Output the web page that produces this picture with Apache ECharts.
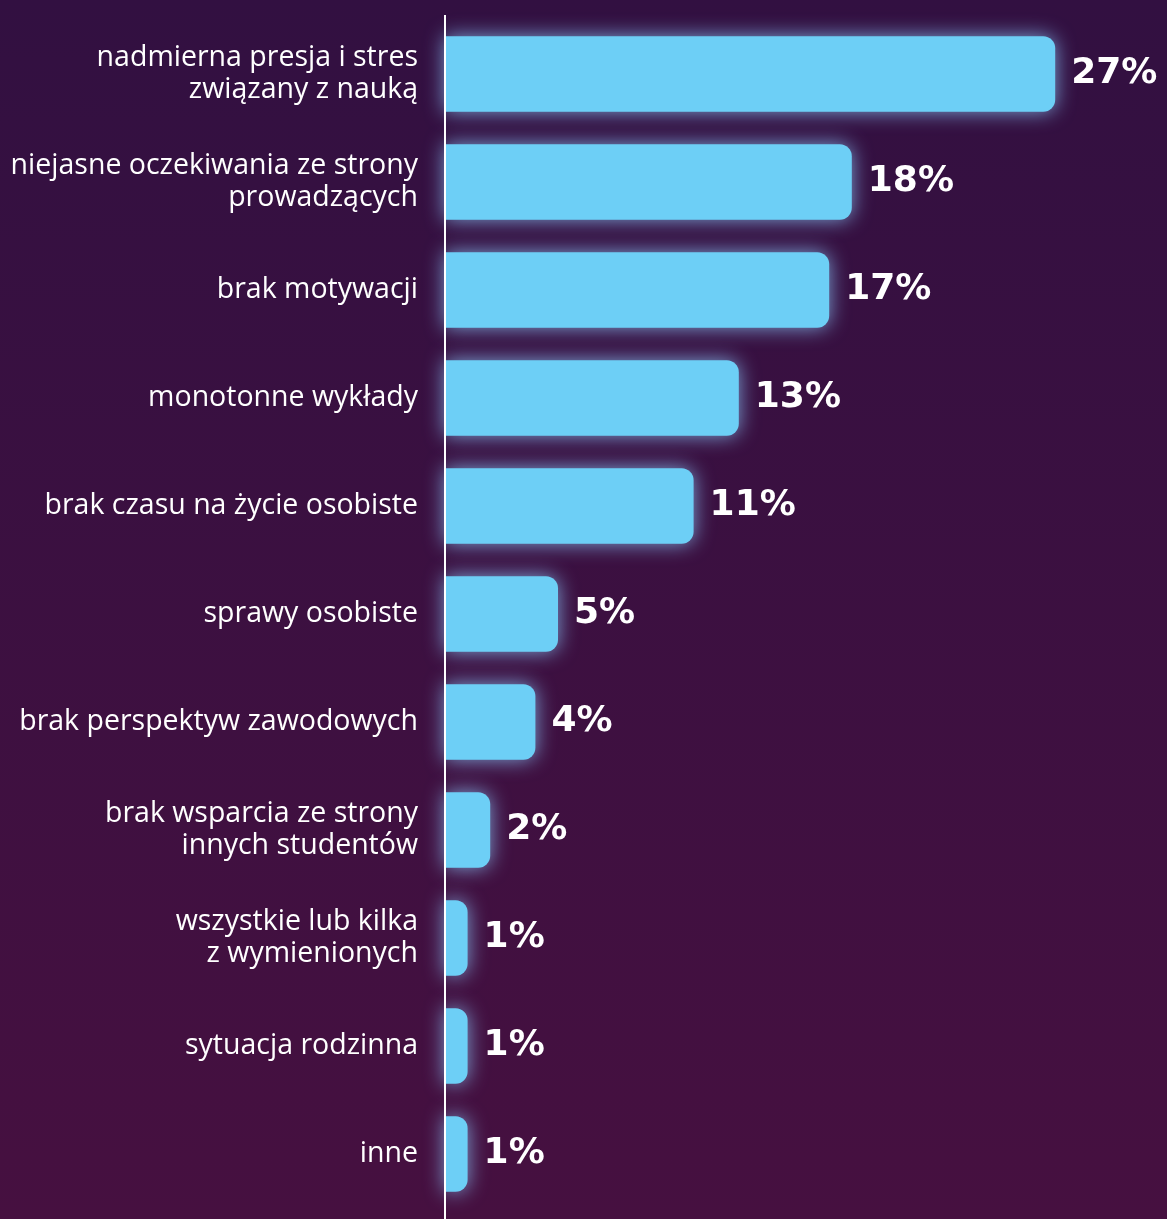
<!DOCTYPE html>
<html>
<head>
<meta charset="utf-8">
<style>
html,body{margin:0;padding:0;background:#3a1040;}
#chart{width:1167px;height:1219px;}
</style>
<script src="https://cdn.jsdelivr.net/npm/echarts@6/dist/echarts.min.js"></script>
</head>
<body>
<div id="chart"></div>
<script>
const categories = [
  'nadmierna presja i stres\nzwiązany z nauką',
  'niejasne oczekiwania ze strony\nprowadzących',
  'brak motywacji',
  'monotonne wykłady',
  'brak czasu na życie osobiste',
  'sprawy osobiste',
  'brak perspektyw zawodowych',
  'brak wsparcia ze strony\ninnych studentów',
  'wszystkie lub kilka\nz wymienionych',
  'sytuacja rodzinna',
  'inne'
];
const values = [27, 18, 17, 13, 11, 5, 4, 2, 1, 1, 1];

const chart = echarts.init(document.getElementById('chart'));
chart.setOption({
  backgroundColor: {
    type: 'linear', x: 0, y: 0, x2: 0, y2: 1,
    colorStops: [{offset: 0, color: '#321041'}, {offset: 1, color: '#461040'}]
  },
  animation: false,
  grid: {left: 445, right: 44, top: 20, bottom: 11, containLabel: false},
  xAxis: {
    type: 'value', min: 0, max: 30, show: false
  },
  yAxis: {
    type: 'category', data: categories, inverse: true,
    axisLine: {show: false}, axisTick: {show: false},
    axisLabel: {
      color: '#ffffff', fontFamily: 'Open Sans', fontSize: 28.5,
      lineHeight: 32, margin: 27, align: 'right',
      padding: [10, 0, 0, 0]
    }
  },
  series: [{
    type: 'bar',
    data: values,
    barWidth: '70%',
    itemStyle: {
      color: '#6dcff6',
      borderRadius: [0, 12, 12, 0],
      shadowBlur: 20,
      shadowColor: 'rgba(140,205,255,0.8)'
    },
    label: {
      show: true, position: 'right', distance: 16,
      formatter: '{c}%',
      color: '#ffffff', fontFamily: 'DejaVu Sans', fontWeight: 'bold', fontSize: 36,
      padding: [6, 0, 0, 0]
    }
  }],
  graphic: [{
    type: 'line', z: 100,
    shape: {x1: 445, y1: 15, x2: 445, y2: 1219},
    style: {stroke: '#ffffff', lineWidth: 2}
  }]
});
</script>
</body>
</html>
